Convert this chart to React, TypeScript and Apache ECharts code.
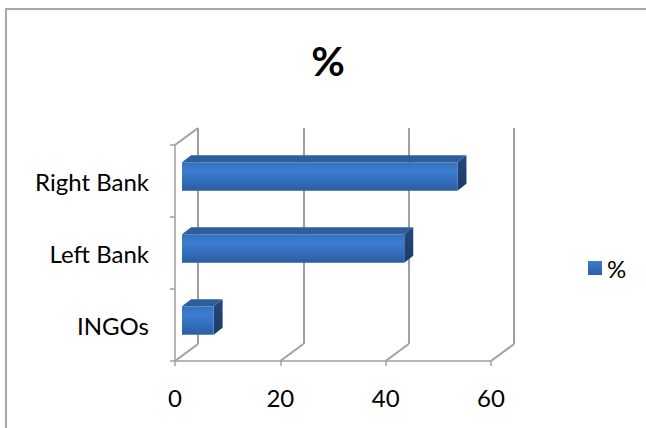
import React, { useEffect, useRef } from "react";
import * as echarts from "echarts";

const categories = ["INGOs", "Left Bank", "Right Bank"];
const values = [6.0, 42.2, 52.3];
const xTicks = [0, 20, 40, 60];
const seriesName = "%";
const titleText = "%";

const FONT = "Lato, 'Noto Sans', sans-serif";
const DEPTH_X = 23;
const DEPTH_Y = -17;
const GRID_COLOR = "#a0a0a0";

export default function App() {
  const ref = useRef<HTMLDivElement>(null);
  useEffect(() => {
    if (!ref.current) return;
    const chart = echarts.init(ref.current, undefined, { renderer: "svg" });
    const frontGrid = { left: 175, top: 145, width: 316, height: 216 };
    const backGrid = {
      left: frontGrid.left + DEPTH_X,
      top: frontGrid.top + DEPTH_Y,
      width: frontGrid.width,
      height: frontGrid.height,
    };
    const frontGradient = new echarts.graphic.LinearGradient(0, 0, 0, 1, [
      { offset: 0, color: "#3670bc" },
      { offset: 0.3, color: "#3c7dd1" },
      { offset: 1, color: "#2b5ea4" },
    ]);
    const option: any = {
      animation: false,
      textStyle: { fontFamily: FONT },
      title: {
        text: titleText,
        left: 323,
        top: 35,
        textAlign: "center",
        textStyle: { fontFamily: FONT, fontSize: 41, fontWeight: "bold", color: "#000" },
      },
      legend: {
        left: 583,
        top: 251,
        itemWidth: 14,
        itemHeight: 14,
        itemGap: 7,
        icon: "rect",
        data: [
          {
            name: seriesName,
            itemStyle: {
              color: new echarts.graphic.LinearGradient(0, 0, 0, 1, [
                { offset: 0, color: "#3c7dd1" },
                { offset: 1, color: "#2b5ea4" },
              ]),
            },
          },
        ],
        textStyle: { fontFamily: FONT, fontSize: 24, color: "#000" },
      },
      graphic: [
        {
          type: "rect",
          shape: { x: 6, y: 9, width: 700, height: 500 },
          style: { fill: "none", stroke: "#8c8c8c", lineWidth: 1.5 },
          silent: true,
        },
      ],
      grid: [
        { ...frontGrid, containLabel: false },
        { ...backGrid, containLabel: false },
      ],
      xAxis: [
        {
          type: "value",
          gridIndex: 0,
          min: 0,
          max: 60,
          interval: 20,
          axisLine: { show: true, lineStyle: { color: GRID_COLOR, width: 1.5 } },
          axisTick: { show: true, length: 5, lineStyle: { color: GRID_COLOR, width: 1.5 } },
          splitLine: { show: false },
          axisLabel: {
            margin: 24,
            fontSize: 24,
            color: "#000",
            fontFamily: FONT,
            formatter: (v: number) => (xTicks.includes(v) ? String(v) : ""),
          },
        },
        {
          type: "value",
          gridIndex: 1,
          min: 0,
          max: 60,
          interval: 20,
          axisLine: { show: false },
          axisTick: { show: false },
          axisLabel: { show: false },
          splitLine: { show: true, lineStyle: { color: GRID_COLOR, width: 2 } },
        },
      ],
      yAxis: [
        {
          type: "category",
          gridIndex: 0,
          data: categories,
          axisLine: { show: true, lineStyle: { color: GRID_COLOR, width: 1.5 } },
          axisTick: { show: true, length: 5, lineStyle: { color: GRID_COLOR, width: 1.5 } },
          axisLabel: {
            margin: 26,
            fontSize: 24,
            color: "#000",
            fontFamily: FONT,
            padding: [7, 0, 0, 0],
          },
        },
        {
          type: "category",
          gridIndex: 1,
          data: categories,
          show: false,
        },
      ],
      series: [
        {
          type: "custom",
          name: "walls",
          xAxisIndex: 0,
          yAxisIndex: 0,
          silent: true,
          z: 1,
          data: xTicks.map((t) => [t]),
          encode: { x: 0 },
          renderItem: (params: any, api: any) => {
            const v = api.value(0);
            const cs = params.coordSys;
            const x = api.coord([v, 0])[0];
            const bottom = cs.y + cs.height;
            const children: any[] = [
              {
                type: "line",
                shape: { x1: x, y1: bottom, x2: x + DEPTH_X, y2: bottom + DEPTH_Y },
                style: { stroke: GRID_COLOR, lineWidth: 2 },
              },
            ];
            if (v === 0) {
              children.push({
                type: "line",
                shape: { x1: x, y1: cs.y, x2: x + DEPTH_X, y2: cs.y + DEPTH_Y },
                style: { stroke: GRID_COLOR, lineWidth: 2 },
              });
            }
            return { type: "group", children };
          },
        },
        {
          type: "custom",
          name: seriesName,
          xAxisIndex: 0,
          yAxisIndex: 0,
          z: 5,
          itemStyle: { color: "#3a78c8" },
          data: values.map((v, i) => [v, categories[i]]),
          encode: { x: 0, y: 1 },
          renderItem: (params: any, api: any) => {
            const v = api.value(0);
            const ci = api.value(1);
            const p0 = api.coord([0, ci]);
            const p1 = api.coord([v, ci]);
            const band = api.size([0, 1])[1];
            const h = band * 0.395;
            const offX = 7;
            const offY = -4.5;
            const dx = 9;
            const dy = -7;
            const x0 = p0[0] + offX;
            const x1 = p1[0] + offX;
            const yc = p0[1] + offY;
            const yt = yc - h / 2;
            const yb = yc + h / 2;
            return {
              type: "group",
              children: [
                {
                  type: "polygon",
                  shape: {
                    points: [
                      [x0, yt],
                      [x1, yt],
                      [x1 + dx, yt + dy],
                      [x0 + dx, yt + dy],
                    ],
                  },
                  style: { fill: "#2e5e9c" },
                },
                {
                  type: "polygon",
                  shape: {
                    points: [
                      [x1, yt],
                      [x1 + dx, yt + dy],
                      [x1 + dx, yb + dy],
                      [x1, yb],
                    ],
                  },
                  style: {
                    fill: new echarts.graphic.LinearGradient(0, 0, 0, 1, [
                      { offset: 0, color: "#24497c" },
                      { offset: 1, color: "#1c3a66" },
                    ]),
                  },
                },
                {
                  type: "rect",
                  shape: { x: x0, y: yt, width: x1 - x0, height: h },
                  style: { fill: frontGradient },
                },
              ],
            };
          },
        },
      ],
    };
    chart.setOption(option);
    return () => chart.dispose();
  }, []);
  return (
    <div
      ref={ref}
      style={{ position: "fixed", left: 0, top: 0, width: 646, height: 428, background: "#fff" }}
    />
  );
}
